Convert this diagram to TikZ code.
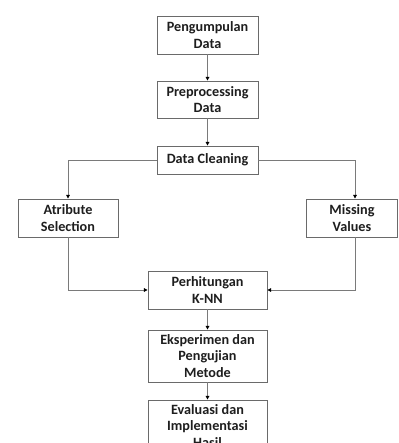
\documentclass[tikz,border=0pt]{standalone}
\usepackage{fontspec}
\setmainfont{Carlito}
\usetikzlibrary{arrows.meta}
\definecolor{boxline}{HTML}{6A6A6A}
\definecolor{conn}{HTML}{7A7A7A}
\definecolor{txt}{HTML}{1E1E1E}
\tikzset{
  stepbox/.style={draw=boxline, line width=0.9pt, fill=white, inner sep=0pt,
    align=center, text=txt, font=\fontsize{14.2}{16.8}\selectfont\bfseries},
  arr/.style={draw=conn, line width=0.9pt, -{Triangle[length=3.6pt,width=3.6pt,color=black]}}
}
\begin{document}
\begin{tikzpicture}[x=1pt,y=-1pt]
\useasboundingbox (0,0) rectangle (398,443);
\clip (0,0) rectangle (398,443);
\node[stepbox, minimum width=101pt, minimum height=38pt] (n1) at (207.5,35) {Pengumpulan\\Data};
\node[stepbox, minimum width=101pt, minimum height=37pt] (n2) at (207.5,99.5) {Preprocessing\\Data};
\node[stepbox, minimum width=101pt, minimum height=28pt] (n3) at (207.5,160) {Data Cleaning};
\node[stepbox, minimum width=100pt, minimum height=38pt] (n4) at (68,218) {Atribute\\Selection};
\node[stepbox, minimum width=91pt, minimum height=38pt] (n5) at (352,218) {Missing\\Values};
\node[stepbox, minimum width=119pt, minimum height=38pt] (n6) at (207.5,290) {Perhitungan\\K-NN};
\node[stepbox, minimum width=119pt, minimum height=52pt] (n7) at (207.5,356) {Eksperimen dan\\Pengujian\\Metode};
\node[stepbox, minimum width=119pt, minimum height=52pt] (n8) at (207.5,426) {Evaluasi dan\\Implementasi\\Hasil};
\coordinate (mv) at (355,0);
\draw[arr] (n1) -- (n2);
\draw[arr] (n2) -- (n3);
\draw[arr] (n3.west) -| (n4.north);
\draw[arr] (n3.east) -| (n5.north -| mv);
\draw[arr] (n4.south) |- (n6.west);
\draw[arr] (n5.south -| mv) |- (n6.east);
\draw[arr] (n6) -- (n7);
\draw[arr] (n7) -- (n8);
\end{tikzpicture}
\end{document}
